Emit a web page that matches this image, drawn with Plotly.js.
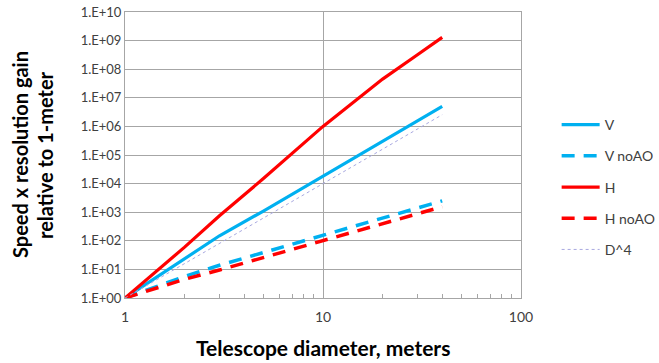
<!DOCTYPE html>
<html>
<head>
<meta charset="utf-8">
<script src="https://cdn.plot.ly/plotly-3.0.1.min.js"></script>
<style>
  html, body { margin: 0; padding: 0; background: #ffffff; }
  #chart { width: 659px; height: 363px; }
</style>
</head>
<body>
<div id="chart"></div>
<script>
// Telescope diameter (meters)
const diameter = [1, 2, 3, 5, 10, 20, 30, 40];
// Speed x resolution gain relative to 1-meter
const vGain     = [1, 23, 150, 1.1e3, 1.8e4, 3.0e5, 1.6e6, 5.0e6];
const vNoAO     = [1, 5.7, 14, 39, 160, 630, 1450, 2500];
const hGain     = [1, 60, 750, 1.5e4, 1.0e6, 4.5e7, 3.2e8, 1.3e9];
const hNoAO     = [1, 4.5, 9.5, 26, 100, 400, 900, 1550];
const d4        = [1, 16, 81, 625, 1.0e4, 1.6e5, 8.1e5, 2.56e6];

const seriesNames = ["V", "V noAO", "H", "H noAO", "D^4"];

const yTickVals = [1, 1e1, 1e2, 1e3, 1e4, 1e5, 1e6, 1e7, 1e8, 1e9, 1e10];
const yTickText = ["1.E+00", "1.E+01", "1.E+02", "1.E+03", "1.E+04", "1.E+05",
                   "1.E+06", "1.E+07", "1.E+08", "1.E+09", "1.E+10"];
const xTickVals = [1, 10, 100];
const xTickText = ["1", "10", "100"];
const xMinorVals = [2, 3, 4, 5, 6, 7, 8, 9, 20, 30, 40, 50, 60, 70, 80, 90];

const xTitle = "Telescope diameter, meters";
const yTitle1 = "Speed x resolution gain";
const yTitle2 = "relative to 1-meter";

const BLUE = "#00B0F0";
const RED = "#FF0000";
const FONT = "Lato, 'Open Sans', sans-serif";

const traces = [
  {x: diameter, y: vGain, name: seriesNames[0], legendgroup: "a",
   mode: "lines", line: {color: BLUE, width: 3.2}},
  {x: diameter, y: vNoAO, name: seriesNames[1], legendgroup: "b",
   mode: "lines", line: {color: BLUE, width: 3.5, dash: "13px,9px"}},
  {x: diameter, y: hGain, name: seriesNames[2], legendgroup: "c",
   mode: "lines", line: {color: RED, width: 3.2}},
  {x: diameter, y: hNoAO, name: seriesNames[3], legendgroup: "d",
   mode: "lines", line: {color: RED, width: 3.5, dash: "13px,9px"}},
  {x: diameter, y: d4, name: seriesNames[4], legendgroup: "e",
   mode: "lines", line: {color: "#a8a8e0", width: 1, dash: "dot"}}
];

const layout = {
  width: 659, height: 363,
  margin: {l: 125, r: 138, t: 12, b: 65, autoexpand: false},
  paper_bgcolor: "#ffffff",
  plot_bgcolor: "#ffffff",
  font: {family: FONT, size: 13, color: "#404040"},
  showlegend: true,
  legend: {
    x: 1.09, xanchor: "left", y: 0.388, yanchor: "middle",
    font: {family: FONT, size: 14, color: "#404040"},
    tracegroupgap: 10,
    itemwidth: 38,
    bgcolor: "rgba(0,0,0,0)"
  },
  xaxis: {
    type: "log", range: [0, 2],
    tickvals: xTickVals, ticktext: xTickText,
    ticks: "", showgrid: true, gridcolor: "#a6a6a6", gridwidth: 1,
    showline: true, linecolor: "#a6a6a6", linewidth: 1, mirror: true,
    zeroline: false, ticklabelstandoff: 6, automargin: false,
    tickfont: {family: FONT, size: 14, color: "#404040"},
    minor: {tickvals: xMinorVals, ticks: "inside", ticklen: 4,
            tickcolor: "#a6a6a6", tickwidth: 1, showgrid: false},
    title: {text: ""}
  },
  yaxis: {
    type: "log", range: [0, 10],
    tickvals: yTickVals, ticktext: yTickText,
    ticks: "", showgrid: true, gridcolor: "#a6a6a6", gridwidth: 1,
    showline: true, linecolor: "#a6a6a6", linewidth: 1, mirror: true,
    zeroline: false, automargin: false,
    tickfont: {family: FONT, size: 13, color: "#404040"},
    title: {text: ""}
  },
  annotations: [
    {xref: "paper", yref: "paper", x: 0, y: 0.5, xanchor: "center", yanchor: "middle",
     xshift: -105, textangle: -90, showarrow: false,
     text: yTitle1,
     font: {family: FONT, size: 20, color: "#000000", weight: "bold"}},
    {xref: "paper", yref: "paper", x: 0, y: 0.5, xanchor: "center", yanchor: "middle",
     xshift: -80, textangle: -90, showarrow: false,
     text: yTitle2,
     font: {family: FONT, size: 20, color: "#000000", weight: "bold"}},
    {xref: "paper", yref: "paper", x: 0.5, y: 0, xanchor: "center", yanchor: "middle",
     yshift: -49, showarrow: false,
     text: xTitle,
     font: {family: FONT, size: 21, color: "#000000", weight: "bold"}}
  ]
};

Plotly.newPlot("chart", traces, layout, {displayModeBar: false, staticPlot: true});
</script>
</body>
</html>
